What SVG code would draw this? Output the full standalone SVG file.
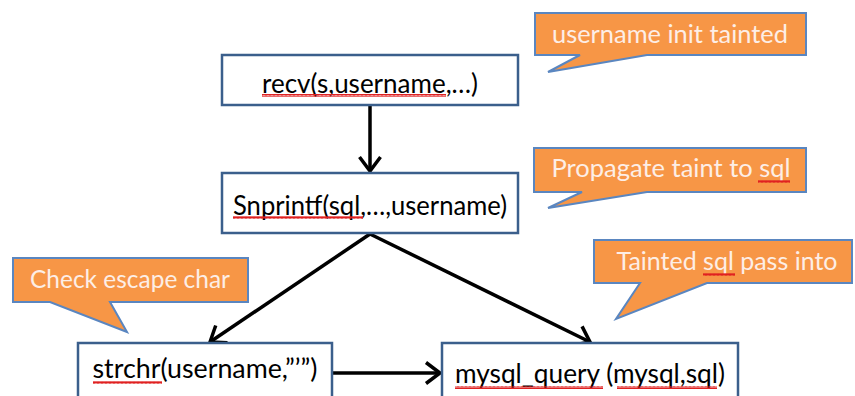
<svg xmlns="http://www.w3.org/2000/svg" width="855" height="396" viewBox="0 0 855 396">
<defs>
<style>
.box{fill:#fff;stroke:#3b5f8c;stroke-width:2.5}
.call{fill:#f79646;stroke:#5a86c0;stroke-width:2;stroke-linejoin:miter}
.t{font-family:Lato,"Liberation Sans",sans-serif;font-size:26px;fill:#000}
.ct{font-family:Lato,"Liberation Sans",sans-serif;font-size:25px;fill:#fdeee6}
.edge{stroke:#000;stroke-width:3.5;fill:none}
.sq{stroke:#e02020;stroke-width:1.2;fill:none}
</style>
<marker id="arr" viewBox="0 0 20 24" refX="17" refY="12" markerWidth="20" markerHeight="24" markerUnits="userSpaceOnUse" orient="auto" overflow="visible">
<path d="M3,1.5 L17,12 L3,22.5" fill="none" stroke="#000" stroke-width="3.5" stroke-linejoin="miter"/>
</marker>
<pattern id="wave" width="4" height="3" patternUnits="userSpaceOnUse">
<path d="M0,2.5 L1,0.5 L2,2.5 L3,0.5 L4,2.5" class="sq"/>
</pattern>
</defs>

<g id="connectors">
<path class="edge" d="M370,106 V171" marker-end="url(#arr)"/>
<path class="edge" d="M370,234 L210,342" marker-end="url(#arr)"/>
<path class="edge" d="M370,234 L590,342" marker-end="url(#arr)"/>
<path class="edge" d="M333,373 H440" marker-end="url(#arr)"/>
</g>

<g id="callout-init">
<path class="call" d="M535,13 H806 V55 H647 L548,72 L580,55 H535 Z"/>
<text class="ct" x="670" y="43" text-anchor="middle" textLength="236" lengthAdjust="spacingAndGlyphs">username init tainted</text>
</g>

<g id="node-recv">
<rect class="box" x="222" y="55" width="296" height="50"/>
<text class="t" x="370" y="93" text-anchor="middle" textLength="216" lengthAdjust="spacingAndGlyphs">recv(s,username,…)</text>
<rect x="262" y="94" width="184" height="3" fill="url(#wave)"/>
</g>

<g id="callout-propagate">
<path class="call" d="M534,148 H806 V192 H647 L548,208 L582,192 H534 Z"/>
<text class="ct" x="671" y="177" text-anchor="middle" textLength="239" lengthAdjust="spacingAndGlyphs">Propagate taint to sql</text>
<rect x="758" y="180" width="32" height="3" fill="url(#wave)"/>
</g>

<g id="node-snprintf">
<rect class="box" x="222" y="173" width="296" height="60"/>
<text class="t" x="370" y="215" text-anchor="middle" textLength="274" lengthAdjust="spacingAndGlyphs">Snprintf(sql,…,username)</text>
<rect x="233" y="216" width="130" height="3" fill="url(#wave)"/>
</g>

<g id="callout-check">
<path class="call" d="M13,258 H248 V302 H110 L127,332 L50,302 H13 Z"/>
<text class="ct" x="130" y="288" text-anchor="middle" textLength="200" lengthAdjust="spacingAndGlyphs">Check escape char</text>
</g>

<g id="callout-tainted">
<path class="call" d="M594,240 H852 V283 H707 L616,319 L640,283 H594 Z"/>
<text class="ct" x="727" y="270" text-anchor="middle" textLength="221" lengthAdjust="spacingAndGlyphs">Tainted sql pass into</text>
<rect x="703" y="273" width="32" height="3" fill="url(#wave)"/>
</g>

<g id="node-strchr">
<rect class="box" x="78" y="343" width="254" height="70"/>
<text class="t" x="205" y="378" text-anchor="middle" textLength="225" lengthAdjust="spacingAndGlyphs">strchr(username,”’”)</text>
<rect x="93" y="381" width="69" height="3" fill="url(#wave)"/>
</g>

<g id="node-mysql">
<rect class="box" x="442" y="343" width="296" height="70"/>
<text class="t" x="590" y="383" text-anchor="middle" textLength="270" lengthAdjust="spacingAndGlyphs">mysql_query (mysql,sql)</text>
<rect x="455" y="386" width="148" height="3" fill="url(#wave)"/>
<rect x="617" y="386" width="100" height="3" fill="url(#wave)"/>
</g>
</svg>
